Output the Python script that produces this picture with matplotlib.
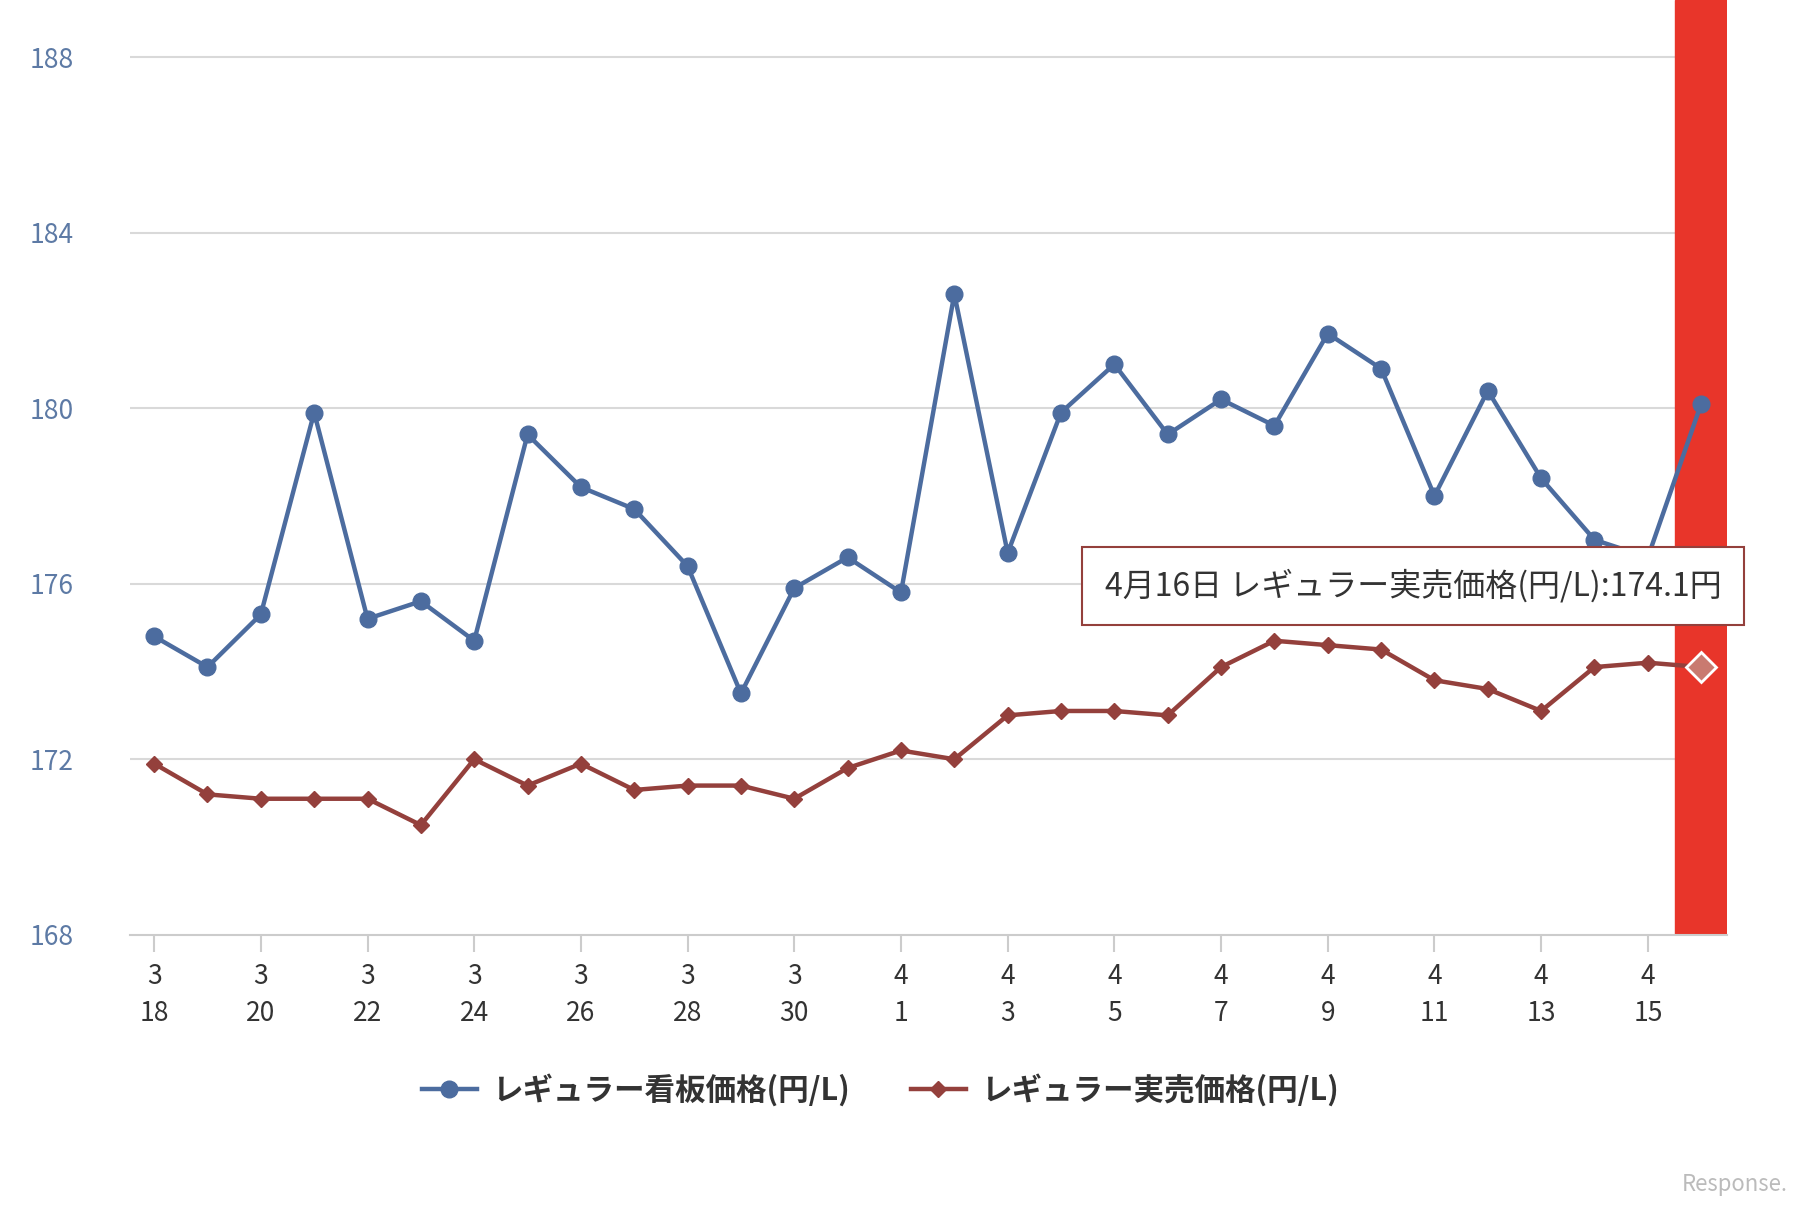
import matplotlib
matplotlib.use("Agg")
import matplotlib.pyplot as plt
from matplotlib.lines import Line2D

plt.rcParams["font.family"] = ["Noto Sans CJK JP", "DejaVu Sans"]

dates = ["3/18","3/19","3/20","3/21","3/22","3/23","3/24","3/25","3/26","3/27","3/28","3/29","3/30","3/31",
         "4/1","4/2","4/3","4/4","4/5","4/6","4/7","4/8","4/9","4/10","4/11","4/12","4/13","4/14","4/15","4/16"]
kanban = [174.8,174.1,175.3,179.9,175.2,175.6,174.7,179.4,178.2,177.7,176.4,173.5,175.9,176.6,
          175.8,182.6,176.7,179.9,181.0,179.4,180.2,179.6,181.7,180.9,178.0,180.4,178.4,177.0,176.6,180.1]
jitsubai = [171.9,171.2,171.1,171.1,171.1,170.5,172.0,171.4,171.9,171.3,171.4,171.4,171.1,171.8,
            172.2,172.0,173.0,173.1,173.1,173.0,174.1,174.7,174.6,174.5,173.8,173.6,173.1,174.1,174.2,174.1]
yticks = [168,172,176,180,184,188]

blue = "#4c6c9f"; red = "#94403c"
fig = plt.figure(figsize=(18.15,12.09), dpi=100)
ax = fig.add_axes([0.0714,0.2268,0.880,0.7732])
x = list(range(len(dates)))
ax.axvspan(28.5,29.5,color="#e8352a",zorder=1)
ax.plot(x,kanban,color=blue,lw=3.2,marker="o",ms=12,zorder=3)
ax.plot(x,jitsubai,color=red,lw=3.2,marker="D",ms=8,zorder=3)
ax.plot([29],[jitsubai[-1]],marker="D",ms=15,mfc="#c97a70",mec="white",mew=2,zorder=4)
ax.set_xlim(-0.46,29.48); ax.set_ylim(168,189.3)
ax.set_yticks(yticks)
ax.set_yticklabels([str(v) for v in yticks],color="#5d7aa5",fontsize=19)
ax.tick_params(axis="y",length=0,pad=40)
for v in yticks[1:]:
    ax.axhline(v,color="#d9d9d9",lw=1.5,zorder=0)
ax.set_xticks(x[::2])
ax.set_xticklabels([d.replace("/","\n") for d in dates[::2]],fontsize=19,color="#333333",linespacing=1.5)
ax.tick_params(axis="x",length=12,color="#cccccc",width=1.5,pad=8)
for s in ["top","right","left"]:
    ax.spines[s].set_visible(False)
ax.spines["bottom"].set_color("#cccccc"); ax.spines["bottom"].set_linewidth(1.5)

ax.text(23.6,175.95,"4月16日 レギュラー実売価格(円/L):174.1円",fontsize=23,color="#333333",ha="center",va="center",zorder=6,
        bbox=dict(boxstyle="square,pad=0.7",fc="white",ec=red,lw=1.5))

handles=[Line2D([],[],color=blue,lw=3.2,marker="o",ms=12),Line2D([],[],color=red,lw=3.2,marker="D",ms=8)]
fig.legend(handles,["レギュラー看板価格(円/L)","レギュラー実売価格(円/L)"],loc="center",bbox_to_anchor=(0.485,0.098),
           ncol=2,frameon=False,prop={"size":22,"weight":"bold"},handlelength=1.8,handletextpad=0.5,columnspacing=2.0,labelcolor="#333333")
fig.text(0.985,0.015,"Response.",color="#bbbbbb",fontsize=16,ha="right",style="italic")
fig.savefig("out.png")
